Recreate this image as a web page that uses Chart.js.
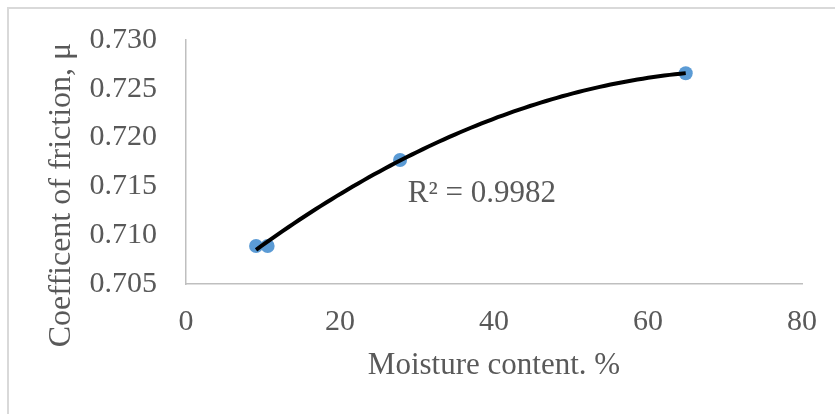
<!DOCTYPE html>
<html>
<head>
<meta charset="utf-8">
<title>Coefficient of friction vs moisture content</title>
<script src="https://cdn.jsdelivr.net/npm/chart.js@4"></script>
<style>
  html, body { margin: 0; padding: 0; background: #fff; overflow: hidden; }
  canvas { display: block; }
</style>
</head>
<body>
<canvas id="frictionChart" width="835" height="414"></canvas>
<script>
// measured samples
const moisture = [9.1, 10.6, 27.8, 64.9];
const friction = [0.7089, 0.7089, 0.7177, 0.7266];

const xTicks = [0, 20, 40, 60, 80];
const yTicks = [0.705, 0.710, 0.715, 0.720, 0.725, 0.730];

const xTitle = 'Moisture content. %';
const yTitle = 'Coefficent of friction, μ';
const r2Label = 'R² = 0.9982';

const serif = '"Liberation Serif", "Times New Roman", serif';
const textColor = '#595959';

// 2nd order polynomial least squares, like the spreadsheet trendline
function polyFit2(xs, ys) {
    let s = [0, 0, 0, 0, 0], t = [0, 0, 0];
    for (let i = 0; i < xs.length; i++) {
        let p = 1;
        for (let k = 0; k < 5; k++) { s[k] += p; p *= xs[i]; }
        t[0] += ys[i]; t[1] += ys[i] * xs[i]; t[2] += ys[i] * xs[i] * xs[i];
    }
    const m = [[s[0], s[1], s[2], t[0]], [s[1], s[2], s[3], t[1]], [s[2], s[3], s[4], t[2]]];
    for (let c = 0; c < 3; c++) {
        for (let r = c + 1; r < 3; r++) {
            const f = m[r][c] / m[c][c];
            for (let k = c; k < 4; k++) m[r][k] -= f * m[c][k];
        }
    }
    const b = [0, 0, 0];
    for (let r = 2; r >= 0; r--) {
        let v = m[r][3];
        for (let k = r + 1; k < 3; k++) v -= m[r][k] * b[k];
        b[r] = v / m[r][r];
    }
    return b;
}

const coef = polyFit2(moisture, friction);
const xStart = moisture[0], xEnd = moisture[moisture.length - 1];
const trend = [];
for (let i = 0; i <= 80; i++) {
    const x = xStart + (xEnd - xStart) * i / 80;
    trend.push({ x: x, y: coef[0] + coef[1] * x + coef[2] * x * x });
}

const points = moisture.map((m, i) => ({ x: m, y: friction[i] }));

// outer frame, axis titles and the R² note
const decorations = {
    id: 'decorations',
    beforeDraw(chart) {
        const ctx = chart.ctx;
        ctx.save();
        ctx.strokeStyle = '#d9d9d9';
        ctx.lineWidth = 2;
        ctx.beginPath();
        ctx.moveTo(8, chart.height + 5);
        ctx.lineTo(8, 8);
        ctx.lineTo(chart.width + 5, 8);
        ctx.stroke();
        ctx.restore();
    },
    afterDraw(chart) {
        const ctx = chart.ctx;
        const area = chart.chartArea;
        const xs = chart.scales.x, ys = chart.scales.y;
        ctx.save();
        ctx.fillStyle = textColor;
        ctx.font = '31px ' + serif;
        ctx.textAlign = 'center';
        ctx.textBaseline = 'middle';
        ctx.fillText(xTitle, (area.left + area.right) / 2, area.bottom + 82);

        ctx.translate(62, area.top + 155);
        ctx.rotate(-Math.PI / 2);
        ctx.font = '32px ' + serif;
        ctx.fillText(yTitle, 0, 0);
        ctx.restore();

        ctx.save();
        ctx.fillStyle = textColor;
        ctx.font = '31px ' + serif;
        ctx.textAlign = 'left';
        ctx.textBaseline = 'alphabetic';
        ctx.fillText(r2Label, xs.getPixelForValue(28.8), ys.getPixelForValue(0.7134));
        ctx.restore();
    }
};

const ctx = document.getElementById('frictionChart').getContext('2d');
const chart = new Chart(ctx, {
    type: 'scatter',
    data: {
        datasets: [
            {
                label: 'trend',
                data: trend,
                showLine: true,
                borderColor: '#000000',
                borderWidth: 4,
                pointRadius: 0,
                fill: false,
                order: 0
            },
            {
                label: 'friction',
                data: points,
                backgroundColor: '#5b9bd5',
                borderColor: '#5b9bd5',
                pointRadius: 7,
                borderWidth: 0,
                order: 1
            }
        ]
    },
    options: {
        responsive: false,
        animation: false,
        events: [],
        layout: { padding: { left: 0, top: 40, right: 33, bottom: 0 } },
        plugins: {
            legend: { display: false },
            tooltip: { enabled: false }
        },
        scales: {
            x: {
                type: 'linear',
                min: xTicks[0],
                max: xTicks[xTicks.length - 1],
                afterBuildTicks: (s) => { s.ticks = xTicks.map(v => ({ value: v })); },
                afterFit: (s) => { s.height = 130; },
                grid: { display: false },
                border: { display: true, color: '#bfbfbf', width: 1.5 },
                ticks: {
                    color: textColor,
                    padding: 12,
                    font: { family: serif, size: 30 },
                    callback: (v) => String(v)
                }
            },
            y: {
                type: 'linear',
                min: yTicks[0],
                max: yTicks[yTicks.length - 1],
                afterBuildTicks: (s) => { s.ticks = yTicks.map(v => ({ value: v })); },
                // fixed width, and no extra room reserved for the end labels
                afterFit: (s) => { s.width = 186; s.paddingTop = 0; s.paddingBottom = 0; },
                grid: { display: false },
                border: { display: true, color: '#bfbfbf', width: 1.5 },
                ticks: {
                    color: textColor,
                    padding: 21,
                    font: { family: serif, size: 30 },
                    callback: (v) => v.toFixed(3)
                }
            }
        }
    },
    plugins: [decorations]
});
</script>
</body>
</html>
